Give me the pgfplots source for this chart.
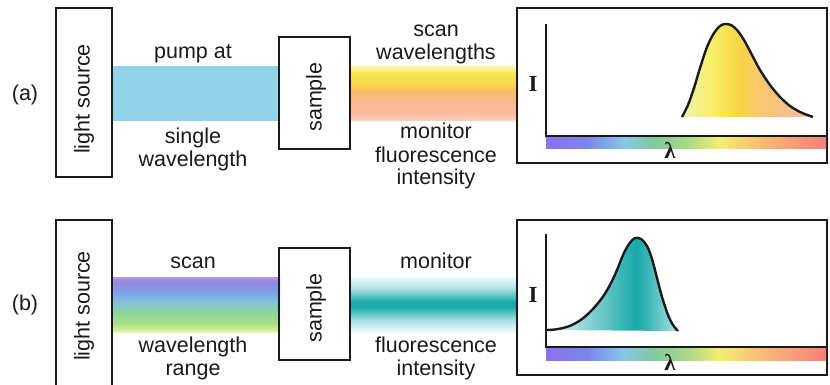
\documentclass[border=0pt]{standalone}
\usepackage{fontspec}
\setmainfont{Liberation Sans}
\newfontfamily\serifbold{Liberation Serif}
\usepackage{pgfplots}
\pgfplotsset{compat=1.18}

\definecolor{pumpblue}{HTML}{92D3EA}
\definecolor{txtcol}{HTML}{1A1A1A}
% beam (a)
\definecolor{aA}{HTML}{FAF6C0}\definecolor{aB}{HTML}{F6EA50}\definecolor{aC}{HTML}{F8D848}
\definecolor{aD}{HTML}{F9C062}\definecolor{aE}{HTML}{FAB88C}\definecolor{aF}{HTML}{FBBAA0}\definecolor{aG}{HTML}{FCD0C0}
% beam (b)
\definecolor{bA}{HTML}{AC9CE2}\definecolor{bB}{HTML}{9A86E0}\definecolor{bC}{HTML}{7F9CE8}
\definecolor{bD}{HTML}{82C0DC}\definecolor{bE}{HTML}{8ED49A}\definecolor{bF}{HTML}{A8E088}\definecolor{bG}{HTML}{E2F4A4}
% teal
\definecolor{tA}{HTML}{EEFAFA}\definecolor{tB}{HTML}{A8E0E0}\definecolor{tC}{HTML}{1AABAB}
% rainbow
\definecolor{rA}{HTML}{8C70F0}\definecolor{rB}{HTML}{7A88E8}\definecolor{rC}{HTML}{88C8E8}\definecolor{rD}{HTML}{80C8A0}
\definecolor{rE}{HTML}{A8D888}\definecolor{rF}{HTML}{F2EE70}\definecolor{rG}{HTML}{F8B878}\definecolor{rH}{HTML}{F88078}
% peak a
\definecolor{pA}{HTML}{EEF2B0}\definecolor{pB}{HTML}{F7F070}\definecolor{pC}{HTML}{F9E050}\definecolor{pD}{HTML}{F8D248}
\definecolor{pE}{HTML}{F8C870}\definecolor{pF}{HTML}{F9BF8C}\definecolor{pG}{HTML}{FBC0A0}
% peak b
\definecolor{qA}{HTML}{E8F6F6}\definecolor{qB}{HTML}{8FD4D4}\definecolor{qC}{HTML}{40B8B8}\definecolor{qD}{HTML}{18A8A8}\definecolor{qE}{HTML}{B0E4E4}

% vertical: 25bp = bottom, 75bp = top
\pgfdeclareverticalshading{beamA}{100bp}{color(0bp)=(aG); color(25bp)=(aG); color(32.5bp)=(aF); color(45bp)=(aE); color(52.5bp)=(aD); color(60bp)=(aC); color(69bp)=(aB); color(75bp)=(aA); color(100bp)=(aA)}
\pgfdeclareverticalshading{beamB}{100bp}{color(0bp)=(bG); color(25bp)=(bG); color(32.5bp)=(bF); color(42.5bp)=(bE); color(52.5bp)=(bD); color(62.5bp)=(bC); color(71bp)=(bB); color(75bp)=(bA); color(100bp)=(bA)}
\pgfdeclareverticalshading{beamT}{100bp}{color(0bp)=(tA); color(25bp)=(tA); color(36bp)=(tB); color(47.5bp)=(tC); color(52.5bp)=(tC); color(64bp)=(tB); color(75bp)=(tA); color(100bp)=(tA)}
% horizontal: 25bp = left, 75bp = right
\pgfdeclarehorizontalshading{rainbow}{100bp}{color(0bp)=(rA); color(25bp)=(rA); color(32.5bp)=(rB); color(39bp)=(rC); color(44bp)=(rD); color(50bp)=(rE); color(56bp)=(rF); color(64bp)=(rG); color(75bp)=(rH); color(100bp)=(rH)}
\pgfdeclarehorizontalshading{peakA}{100bp}{color(0bp)=(pA); color(25bp)=(pA); color(35bp)=(pB); color(42.5bp)=(pC); color(47.5bp)=(pD); color(55bp)=(pE); color(65bp)=(pF); color(75bp)=(pG); color(100bp)=(pG)}
\pgfdeclarehorizontalshading{peakB}{100bp}{color(0bp)=(qA); color(25bp)=(qA); color(40bp)=(qB); color(52.5bp)=(qC); color(59bp)=(qD); color(64bp)=(qC); color(75bp)=(qE); color(100bp)=(qE)}

\newcommand\txt{\fontsize{21.5}{25}\selectfont}
\newcommand\sym{\fontsize{23}{26}\selectfont\serifbold\bfseries}

\begin{document}
\begin{tikzpicture}
\begin{axis}[
  scale only axis, width=830pt, height=385pt,
  xmin=0, xmax=830, ymin=0, ymax=385, y dir=reverse,
  hide axis,
]
\coordinate (bbsw) at (axis cs:0,385);
\coordinate (bbne) at (axis cs:830,0);
% ---------- panel (a) ----------
\addplot[draw=none, fill=pumpblue] coordinates {(112,66) (280,66) (280,121) (112,121)} -- cycle;
\addplot[draw=none, shading=beamA] coordinates {(350,66) (517,66) (517,121) (350,121)} -- cycle;
\addplot[txtcol, line width=2.3pt] coordinates {(56,8) (112,8) (112,177) (56,177)} -- cycle;
\addplot[txtcol, line width=2.3pt] coordinates {(279,37) (350,37) (350,149) (279,149)} -- cycle;
\addplot[txtcol, line width=2.3pt] coordinates {(517,8) (827,8) (827,163) (517,163)} -- cycle;
\addplot[draw=none, shading=rainbow] coordinates {(546,136) (826,136) (826,149) (546,149)} -- cycle;
\addplot[draw=none, shading=peakA, smooth] coordinates {(682,117) (688,105) (694,88) (700,68) (707,47) (714,33) (720,26) (725,24) (731,25) (737,30) (744,40) (752,55) (760,70) (770,85) (780,97) (790,106) (800,112) (810,116) (813,117)} -- cycle;
\addplot[txtcol, line width=2.4pt, smooth] coordinates {(682,117) (688,105) (694,88) (700,68) (707,47) (714,33) (720,26) (725,24) (731,25) (737,30) (744,40) (752,55) (760,70) (770,85) (780,97) (790,106) (800,112) (810,116) (813,117)};
\addplot[txtcol, line width=2.3pt, line join=miter] coordinates {(546,24) (546,136) (826,136)};

% ---------- panel (b) ----------
\addplot[draw=none, shading=beamB] coordinates {(112,277) (280,277) (280,332) (112,332)} -- cycle;
\addplot[draw=none, shading=beamT] coordinates {(350,277) (517,277) (517,332) (350,332)} -- cycle;
\addplot[txtcol, line width=2.3pt] coordinates {(56,392) (56,220) (112,220) (112,392)};
\addplot[txtcol, line width=2.3pt] coordinates {(279,248) (350,248) (350,360) (279,360)} -- cycle;
\addplot[txtcol, line width=2.3pt] coordinates {(517,220) (827,220) (827,375) (517,375)} -- cycle;
\addplot[draw=none, shading=rainbow] coordinates {(546,347) (826,347) (826,360) (546,360)} -- cycle;
\addplot[draw=none, shading=peakB, smooth] coordinates {(547,330) (555,329.5) (563,328) (572,325) (582,319) (592,310) (602,298) (610,285) (617,270) (623,255) (629,244) (635,238) (641,239) (647,246) (652,259) (657,278) (662,297) (668,315) (673,325) (678,331)} -- cycle;
\addplot[txtcol, line width=2.4pt, smooth] coordinates {(547,330) (555,329.5) (563,328) (572,325) (582,319) (592,310) (602,298) (610,285) (617,270) (623,255) (629,244) (635,238) (641,239) (647,246) (652,259) (657,278) (662,297) (668,315) (673,325) (678,331)};
\addplot[txtcol, line width=2.3pt, line join=miter] coordinates {(546,234) (546,347) (826,347)};

% ---------- text ----------
\begin{scope}[every node/.style={text=txtcol, font=\txt, inner sep=0pt}]
\node[anchor=base] at (axis cs:25,101) {(a)};
\node[anchor=base] at (axis cs:25,310) {(b)};
\node[rotate=90] at (axis cs:84,99) {light source};
\node[rotate=90] at (axis cs:84,306) {light source};
\node[rotate=90] at (axis cs:316,97) {sample};
\node[rotate=90] at (axis cs:316,308) {sample};
\node[anchor=base] at (axis cs:193,59) {pump at};
\node[anchor=base] at (axis cs:193,143) {single};
\node[anchor=base] at (axis cs:193,166) {wavelength};
\node[anchor=base] at (axis cs:436,37) {scan};
\node[anchor=base] at (axis cs:436,60) {wavelengths};
\node[anchor=base] at (axis cs:436,139) {monitor};
\node[anchor=base] at (axis cs:436,162) {fluorescence};
\node[anchor=base] at (axis cs:436,185) {intensity};
\node[anchor=base] at (axis cs:193,268) {scan};
\node[anchor=base] at (axis cs:193,352) {wavelength};
\node[anchor=base] at (axis cs:193,375) {range};
\node[anchor=base] at (axis cs:436,268) {monitor};
\node[anchor=base] at (axis cs:436,352) {fluorescence};
\node[anchor=base] at (axis cs:436,375) {intensity};
\node[anchor=base, font=\sym] at (axis cs:533,92) {I};
\node[anchor=base, font=\sym] at (axis cs:533,302) {I};
\node[anchor=base, font=\sym] at (axis cs:670,159) {λ};
\node[anchor=base, font=\sym] at (axis cs:670,370) {λ};
\end{scope}
\end{axis}
\pgfresetboundingbox
\useasboundingbox (bbsw) rectangle (bbne);
\end{tikzpicture}
\end{document}
